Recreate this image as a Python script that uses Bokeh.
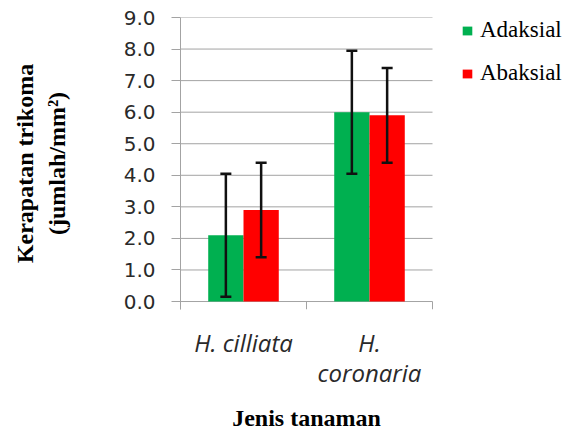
from bokeh.plotting import figure
from bokeh.models import (ColumnDataSource, Range1d, FixedTicker, Whisker, LinearAxis,
                          TeeHead, Legend, LegendItem, PrintfTickFormatter)
from bokeh.embed import file_html
from bokeh.resources import INLINE

# ---- data ----
species = ["H. cilliata", "H. coronaria"]
label_line1 = ["H. cilliata", "H."]
label_line2 = ["", "coronaria"]
x_title = "Jenis tanaman"
y_title = "Kerapatan trikoma\n(jumlah/mm\u00b2)"
series = ["Adaksial", "Abaksial"]
adaksial = [2.1, 6.0]
adaksial_err = [1.95, 1.95]
abaksial = [2.9, 5.9]
abaksial_err = [1.5, 1.5]
y_ticks = [0, 1, 2, 3, 4, 5, 6, 7, 8, 9]

colors = ["#00B050", "#FF0000"]
n_cat = len(species)
centers = [i + 0.5 for i in range(n_cat)]
category_bounds = list(range(n_cat + 1))
y_start = -0.2526
bar_w = 0.28
offsets = [-bar_w / 2, bar_w / 2]

src = ColumnDataSource(dict(
    x_ad=[c + offsets[0] for c in centers],
    x_ab=[c + offsets[1] for c in centers],
    adaksial=adaksial,
    abaksial=abaksial,
    ad_up=[v + e for v, e in zip(adaksial, adaksial_err)],
    ad_lo=[v - e for v, e in zip(adaksial, adaksial_err)],
    ab_up=[v + e for v, e in zip(abaksial, abaksial_err)],
    ab_lo=[v - e for v, e in zip(abaksial, abaksial_err)],
))

# frame spans to the right edge so the legend can sit inside it; categories occupy [0, n_cat]
x_end = n_cat * 386 / 252
p = figure(x_range=Range1d(0, x_end), y_range=Range1d(y_start, 9),
           width=566, height=433, output_backend="svg", toolbar_location=None,
           min_border_left=180, min_border_right=0, min_border_top=17, min_border_bottom=123,
           outline_line_color=None, background_fill_color="white")

grid_col = "#A3A3A3"
p.xgrid.grid_line_color = None
p.ygrid.grid_line_color = None
# horizontal gridlines over the category area only
p.segment(x0=[0] * len(y_ticks), y0=y_ticks, x1=[n_cat] * len(y_ticks), y1=y_ticks,
          line_color=grid_col, line_width=1)
# category boundary ticks below the baseline
p.segment(x0=category_bounds, y0=[0] * len(category_bounds), x1=category_bounds,
          y1=[y_start] * len(category_bounds), line_color=grid_col, line_width=1)

renderers = []
for key, xkey, col, (up, lo) in zip(["adaksial", "abaksial"], ["x_ad", "x_ab"], colors,
                                    [("ad_up", "ad_lo"), ("ab_up", "ab_lo")]):
    r = p.vbar(x=xkey, top=key, width=bar_w, source=src, fill_color=col, line_color=None)
    renderers.append(r)
    w = Whisker(source=src, base=xkey, upper=up, lower=lo, level="overlay",
                line_color="#111111", line_width=2.5,
                upper_head=TeeHead(size=11, line_width=2.5, line_color="#111111"),
                lower_head=TeeHead(size=11, line_width=2.5, line_color="#111111"))
    p.add_layout(w)

# y axis
ya = p.yaxis[0]
ya.ticker = FixedTicker(ticks=y_ticks)
ya.formatter = PrintfTickFormatter(format="%.1f")
ya.axis_line_color = grid_col
ya.major_tick_line_color = grid_col
ya.major_tick_in = 0
ya.major_tick_out = 9
ya.minor_tick_line_color = None
ya.major_label_standoff = 16
ya.major_label_text_font = "DejaVu Sans"
ya.major_label_text_font_size = "20px"
ya.major_label_text_color = "#2a2a2a"
ya.axis_label = y_title
ya.axis_label_text_font = "Liberation Serif"
ya.axis_label_text_font_style = "bold"
ya.axis_label_text_font_size = "24px"
ya.axis_label_text_color = "black"
ya.axis_label_standoff = 51


def style_x_axis(ax, ticks, labels):
    ax.ticker = FixedTicker(ticks=ticks, minor_ticks=[])
    ax.major_label_overrides = dict(zip(ticks, labels))
    ax.axis_line_color = None
    ax.major_tick_line_color = None
    ax.minor_tick_line_color = None
    ax.major_tick_in = 0
    ax.major_tick_out = 0
    ax.minor_tick_in = 0
    ax.minor_tick_out = 0
    ax.major_label_text_font = "Open Sans"
    ax.major_label_text_font_style = "italic"
    ax.major_label_text_font_size = "24px"
    ax.major_label_text_color = "#2a2a2a"


# first line of category labels
xa = p.xaxis[0]
style_x_axis(xa, centers, label_line1)
xa.major_label_standoff = 16

# second line of category labels
xa2 = LinearAxis()
style_x_axis(xa2, centers, label_line2)
xa2.major_label_standoff = -6
p.add_layout(xa2, "below")

# axis title, centred on the category area
xa3 = LinearAxis()
style_x_axis(xa3, [n_cat / 2], [x_title])
xa3.major_label_text_font = "Liberation Serif"
xa3.major_label_text_font_style = "bold"
xa3.major_label_text_font_size = "24px"
xa3.major_label_text_color = "black"
xa3.major_label_standoff = 13
p.add_layout(xa3, "below")

legend = Legend(items=[LegendItem(label=n, renderers=[r]) for n, r in zip(series, renderers)],
                location=(281, 223), glyph_width=12, glyph_height=11, spacing=17,
                padding=0, margin=0, border_line_color=None, background_fill_alpha=0,
                label_standoff=7, label_text_font="Liberation Serif",
                label_text_font_size="23px", label_text_color="black")
p.add_layout(legend)

open("out.html", "w").write(file_html(p, INLINE))
